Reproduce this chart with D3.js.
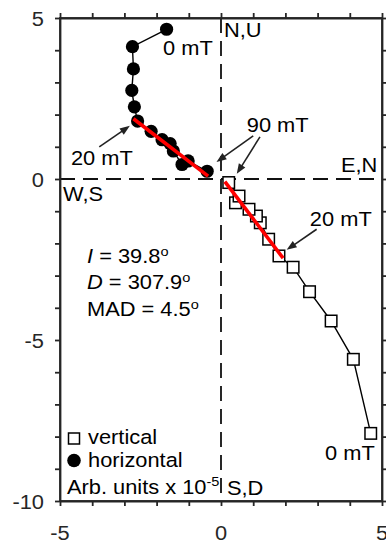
<!DOCTYPE html>
<html><head><meta charset="utf-8">
<script src="https://cdn.jsdelivr.net/npm/d3@7"></script>
<style>body{margin:0;background:#fff}</style>
</head><body><svg id="c" width="386" height="544"></svg>
<script>
// Demagnetisation steps (0 mT first, 90 mT last), arbitrary units x 1e-5
const east  = [-1.69, -2.75, -2.72, -2.77, -2.69, -2.59, -2.17, -1.83, -1.58, -1.48, -1.21, -1.02, -0.43];
const north = [4.65, 4.11, 3.42, 2.75, 2.24, 1.80, 1.48, 1.22, 1.10, 0.87, 0.45, 0.56, 0.24];
const up    = [-7.90, -5.60, -4.41, -3.50, -2.74, -2.39, -1.87, -1.36, -1.15, -0.94, -0.74, -0.53, -0.11];
// PCA fit segments (20-90 mT)
const fitHx = [-2.72, -0.40], fitHy = [1.87, 0.09];
const fitVx = [0.12, 1.93],  fitVy = [-0.08, -2.46];
const xTicks = d3.range(-5, 6, 1), yTicks = d3.range(-10, 6, 1);
const xTickLabels = [-5, 0, 5], yTickLabels = [-10, -5, 0, 5];

const FS = 19.5, SX = 1.12, ink = "#000", axisCol = "#262626";
const svg = d3.select("#c");
const x = d3.scaleLinear([-5, 5], [60, 382]);
const y = d3.scaleLinear([-10, 5], [501, 18]);

function txt(px, py, anchor, color) {
  return svg.append("g").attr("transform", `translate(${px},${py}) scale(${SX},1)`)
    .append("text").attr("text-anchor", anchor || "start")
    .attr("font-family", "Arial, 'Liberation Sans', Helvetica, sans-serif")
    .attr("font-size", FS).attr("fill", color || ink);
}

// dashed origin lines
svg.append("line").attr("x1", x(0)).attr("x2", x(0)).attr("y1", y(5)).attr("y2", y(-10))
  .attr("stroke", "#111").attr("stroke-width", 1.8).attr("stroke-dasharray", "15,8");
svg.append("line").attr("x1", x(-5)).attr("x2", x(5)).attr("y1", y(0)).attr("y2", y(0))
  .attr("stroke", "#111").attr("stroke-width", 1.8).attr("stroke-dasharray", "15,8");

// axes (box, outward ticks)
const tl = 5;
const axB = svg.append("g").attr("transform", `translate(0,${y(-10)})`).call(d3.axisBottom(x).tickValues(xTicks).tickSize(tl).tickSizeOuter(0).tickFormat(""));
const axT = svg.append("g").attr("transform", `translate(0,${y(5)})`).call(d3.axisTop(x).tickValues(xTicks).tickSize(tl).tickSizeOuter(0).tickFormat(""));
const axL = svg.append("g").attr("transform", `translate(${x(-5)},0)`).call(d3.axisLeft(y).tickValues(yTicks).tickSize(tl).tickSizeOuter(0).tickFormat(""));
const axR = svg.append("g").attr("transform", `translate(${x(5)},0)`).call(d3.axisRight(y).tickValues(yTicks).tickSize(tl).tickSizeOuter(0).tickFormat(""));
[axB, axT, axL, axR].forEach(a => {
  a.selectAll("path,line").attr("stroke", axisCol).attr("stroke-width", 1.8);
});
svg.append("rect").attr("x", x(-5)).attr("y", y(5)).attr("width", x(5) - x(-5)).attr("height", y(-10) - y(5))
  .attr("fill", "none").attr("stroke", axisCol).attr("stroke-width", 1.8);

xTickLabels.forEach(v => txt(x(v), y(-10) + 39, "middle", axisCol).text(d3.format("")(v).replace("−", "-")));
yTickLabels.forEach(v => txt(x(-5) - 16, y(v) + 8, "end", axisCol).text(String(v)));

// data lines
const idx = d3.range(east.length);
const lineH = d3.line().x(i => x(east[i])).y(i => y(north[i]));
const lineV = d3.line().x(i => x(north[i])).y(i => y(up[i]));
svg.append("path").attr("d", lineH(idx)).attr("fill", "none").attr("stroke", ink).attr("stroke-width", 1.4);
svg.append("path").attr("d", lineV(idx)).attr("fill", "none").attr("stroke", ink).attr("stroke-width", 1.4);

// markers
svg.selectAll("circle.h").data(idx).join("circle").attr("class", "h")
  .attr("cx", i => x(east[i])).attr("cy", i => y(north[i])).attr("r", 6.6).attr("fill", ink);
const sq = 11.5;
svg.selectAll("rect.v").data(idx).join("rect").attr("class", "v")
  .attr("x", i => x(north[i]) - sq / 2).attr("y", i => y(up[i]) - sq / 2)
  .attr("width", sq).attr("height", sq).attr("fill", "#fff").attr("stroke", ink).attr("stroke-width", 1.5);

// fit lines
svg.append("line").attr("x1", x(fitHx[0])).attr("y1", y(fitHy[0])).attr("x2", x(fitHx[1])).attr("y2", y(fitHy[1]))
  .attr("stroke", "#ff0000").attr("stroke-width", 3.6);
svg.append("line").attr("x1", x(fitVx[0])).attr("y1", y(fitVy[0])).attr("x2", x(fitVx[1])).attr("y2", y(fitVy[1]))
  .attr("stroke", "#ff0000").attr("stroke-width", 3.6);

// annotations (data units)
const annotations = [
  { text: "0 mT", x: -1.80, y: 3.85, arrows: [] },
  { text: "20 mT", x: -4.66, y: 0.43, arrows: [[[-3.78, 1.00], [-2.83, 1.65]]] },
  { text: "90 mT", x: 0.80, y: 1.47, arrows: [[[1.00, 1.34], [-0.14, 0.53]], [[1.21, 1.31], [0.49, 0.16]]] },
  { text: "20 mT", x: 2.76, y: -1.46, arrows: [[[2.97, -1.56], [2.04, -2.20]]] },
  { text: "0 mT", x: 3.23, y: -8.73, arrows: [] }
];
function arrow(a, b) {
  const x0 = x(a[0]), y0 = y(a[1]), x1 = x(b[0]), y1 = y(b[1]);
  const dx = x1 - x0, dy = y1 - y0, L = Math.hypot(dx, dy), ux = dx / L, uy = dy / L;
  const hl = 10, hw = 3.8;
  const bx = x1 - ux * hl, by = y1 - uy * hl;
  svg.append("line").attr("x1", x0).attr("y1", y0).attr("x2", bx + ux * 2).attr("y2", by + uy * 2)
    .attr("stroke", "#222").attr("stroke-width", 1.6);
  svg.append("path").attr("d", `M${x1},${y1}L${bx - uy * hw},${by + ux * hw}L${bx + uy * hw},${by - ux * hw}Z`)
    .attr("fill", "#222");
}
annotations.forEach(a => {
  txt(x(a.x), y(a.y)).text(a.text);
  a.arrows.forEach(p => arrow(p[0], p[1]));
});

// axis direction labels
txt(224, 37).text("N,U");
txt(341, 172).text("E,N");
txt(63, 201).text("W,S");
txt(227, 495).text("S,D");

// statistics
const stats = [["I", " = 39.8"], ["D", " = 307.9"], ["", "MAD = 4.5"]];
const statY = [263, 289, 316];
stats.forEach((s, k) => {
  const t = txt(87, statY[k]);
  if (s[0]) t.append("tspan").attr("font-style", "italic").text(s[0]);
  t.append("tspan").text(s[1]);
  t.append("tspan").attr("font-size", 13).attr("dy", -7).text("o");
});

// legend
svg.append("rect").attr("x", 74 - 5.5).attr("y", 438.5 - 5.5).attr("width", 11).attr("height", 11)
  .attr("fill", "#fff").attr("stroke", ink).attr("stroke-width", 1.5);
txt(88, 444).text("vertical");
svg.append("circle").attr("cx", 74).attr("cy", 460.5).attr("r", 6.8).attr("fill", ink);
txt(88, 467).text("horizontal");
const arb = txt(67, 494);
arb.append("tspan").text("Arb. units x 10");
arb.append("tspan").attr("font-size", 13).attr("dy", -8).text("-5");
</script></body></html>
